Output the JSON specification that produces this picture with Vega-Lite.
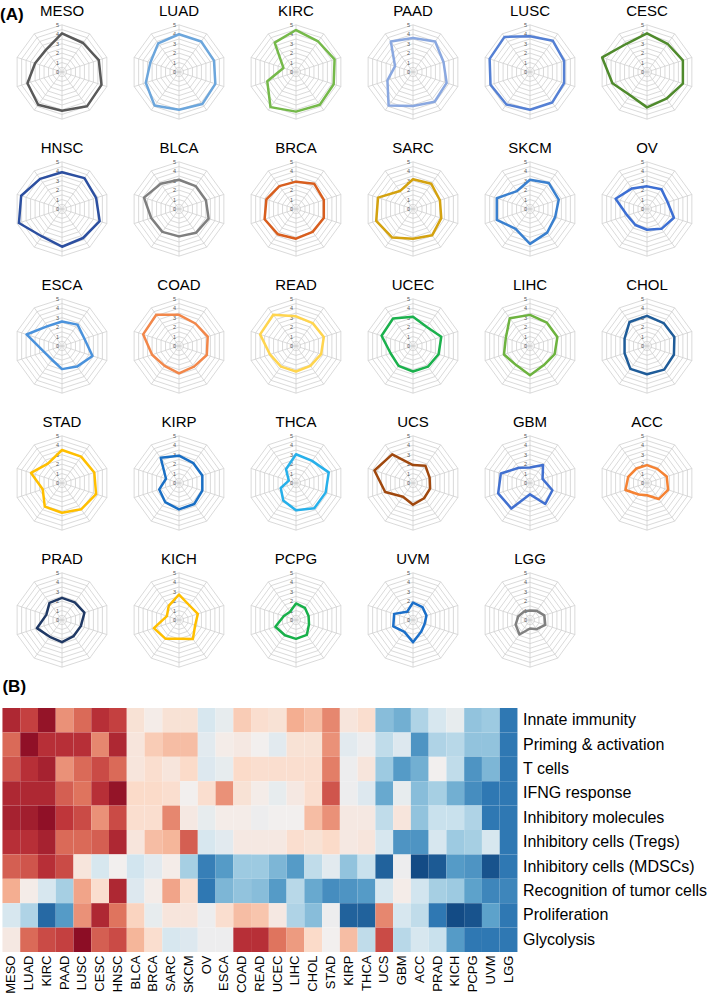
{
"$schema": "https://vega.github.io/schema/vega-lite/v6.json",
"padding": {"top": 4, "left": 0, "right": 0, "bottom": 0},
"background": "white",
"config": {"view": {"stroke": null}, "font": "Liberation Sans"},
"datasets": {
"features": [
{"feature":"Innate immunity","k":0},{"feature":"Priming & activation","k":1},{"feature":"T cells","k":2},{"feature":"IFNG response","k":3},{"feature":"Inhibitory molecules","k":4},{"feature":"Inhibitory cells (Tregs)","k":5},{"feature":"Inhibitory cells (MDSCs)","k":6},{"feature":"Recognition of tumor cells","k":7},{"feature":"Proliferation","k":8},{"feature":"Glycolysis","k":9}],
"scores": [
{"cancer":"MESO","feature":"Innate immunity","score":4.1,"z":2.6},{"cancer":"MESO","feature":"Priming & activation","score":3.8,"z":1.9},{"cancer":"MESO","feature":"T cells","score":4.1,"z":2.1},{"cancer":"MESO","feature":"IFNG response","score":4.4,"z":2.6},{"cancer":"MESO","feature":"Inhibitory molecules","score":4.5,"z":2.7},{"cancer":"MESO","feature":"Inhibitory cells (Tregs)","score":4.1,"z":2.5},{"cancer":"MESO","feature":"Inhibitory cells (MDSCs)","score":4.3,"z":2.0},{"cancer":"MESO","feature":"Recognition of tumor cells","score":3.85,"z":1.2},{"cancer":"MESO","feature":"Proliferation","score":3.0,"z":-0.5},{"cancer":"MESO","feature":"Glycolysis","score":2.9,"z":0.2},
{"cancer":"LUAD","feature":"Innate immunity","score":4.0,"z":2.3},{"cancer":"LUAD","feature":"Priming & activation","score":4.0,"z":2.95},{"cancer":"LUAD","feature":"T cells","score":3.9,"z":2.5},{"cancer":"LUAD","feature":"IFNG response","score":4.05,"z":2.6},{"cancer":"LUAD","feature":"Inhibitory molecules","score":4.2,"z":2.75},{"cancer":"LUAD","feature":"Inhibitory cells (Tregs)","score":4.0,"z":2.5},{"cancer":"LUAD","feature":"Inhibitory cells (MDSCs)","score":4.4,"z":2.1},{"cancer":"LUAD","feature":"Recognition of tumor cells","score":3.7,"z":0.1},{"cancer":"LUAD","feature":"Proliferation","score":3.2,"z":-1.0},{"cancer":"LUAD","feature":"Glycolysis","score":3.75,"z":1.9},
{"cancer":"KIRC","feature":"Innate immunity","score":4.45,"z":2.9},{"cancer":"KIRC","feature":"Priming & activation","score":4.0,"z":2.5},{"cancer":"KIRC","feature":"T cells","score":4.3,"z":2.7},{"cancer":"KIRC","feature":"IFNG response","score":4.2,"z":2.6},{"cancer":"KIRC","feature":"Inhibitory molecules","score":4.3,"z":2.95},{"cancer":"KIRC","feature":"Inhibitory cells (Tregs)","score":4.2,"z":2.7},{"cancer":"KIRC","feature":"Inhibitory cells (MDSCs)","score":4.6,"z":2.5},{"cancer":"KIRC","feature":"Recognition of tumor cells","score":3.2,"z":-0.5},{"cancer":"KIRC","feature":"Proliferation","score":1.4,"z":-2.6},{"cancer":"KIRC","feature":"Glycolysis","score":3.85,"z":2.2},
{"cancer":"PAAD","feature":"Innate immunity","score":3.6,"z":1.5},{"cancer":"PAAD","feature":"Priming & activation","score":4.0,"z":2.5},{"cancer":"PAAD","feature":"T cells","score":3.4,"z":1.5},{"cancer":"PAAD","feature":"IFNG response","score":3.75,"z":2.0},{"cancer":"PAAD","feature":"Inhibitory molecules","score":3.9,"z":2.4},{"cancer":"PAAD","feature":"Inhibitory cells (Tregs)","score":3.6,"z":1.9},{"cancer":"PAAD","feature":"Inhibitory cells (MDSCs)","score":4.4,"z":2.2},{"cancer":"PAAD","feature":"Recognition of tumor cells","score":2.85,"z":-1.1},{"cancer":"PAAD","feature":"Proliferation","score":2.0,"z":-1.9},{"cancer":"PAAD","feature":"Glycolysis","score":4.0,"z":2.3},
{"cancer":"LUSC","feature":"Innate immunity","score":3.8,"z":1.9},{"cancer":"LUSC","feature":"Priming & activation","score":4.1,"z":2.5},{"cancer":"LUSC","feature":"T cells","score":3.8,"z":1.9},{"cancer":"LUSC","feature":"IFNG response","score":3.8,"z":1.8},{"cancer":"LUSC","feature":"Inhibitory molecules","score":4.0,"z":2.2},{"cancer":"LUSC","feature":"Inhibitory cells (Tregs)","score":4.0,"z":1.9},{"cancer":"LUSC","feature":"Inhibitory cells (MDSCs)","score":4.25,"z":0.3},{"cancer":"LUSC","feature":"Recognition of tumor cells","score":4.4,"z":1.3},{"cancer":"LUSC","feature":"Proliferation","score":4.5,"z":1.5},{"cancer":"LUSC","feature":"Glycolysis","score":4.6,"z":3.0},
{"cancer":"CESC","feature":"Innate immunity","score":4.1,"z":2.5},{"cancer":"CESC","feature":"Priming & activation","score":3.7,"z":1.6},{"cancer":"CESC","feature":"T cells","score":4.0,"z":2.2},{"cancer":"CESC","feature":"IFNG response","score":4.0,"z":2.5},{"cancer":"CESC","feature":"Inhibitory molecules","score":3.5,"z":1.5},{"cancer":"CESC","feature":"Inhibitory cells (Tregs)","score":3.75,"z":2.0},{"cancer":"CESC","feature":"Inhibitory cells (MDSCs)","score":3.05,"z":-0.5},{"cancer":"CESC","feature":"Recognition of tumor cells","score":3.85,"z":0.5},{"cancer":"CESC","feature":"Proliferation","score":5.0,"z":2.6},{"cancer":"CESC","feature":"Glycolysis","score":3.7,"z":2.0},
{"cancer":"HNSC","feature":"Innate immunity","score":3.9,"z":2.3},{"cancer":"HNSC","feature":"Priming & activation","score":4.05,"z":2.6},{"cancer":"HNSC","feature":"T cells","score":3.8,"z":1.9},{"cancer":"HNSC","feature":"IFNG response","score":4.2,"z":2.9},{"cancer":"HNSC","feature":"Inhibitory molecules","score":3.8,"z":2.2},{"cancer":"HNSC","feature":"Inhibitory cells (Tregs)","score":4.0,"z":2.6},{"cancer":"HNSC","feature":"Inhibitory cells (MDSCs)","score":3.6,"z":0.0},{"cancer":"HNSC","feature":"Recognition of tumor cells","score":4.8,"z":2.6},{"cancer":"HNSC","feature":"Proliferation","score":4.55,"z":1.8},{"cancer":"HNSC","feature":"Glycolysis","score":3.95,"z":2.2},
{"cancer":"BLCA","feature":"Innate immunity","score":3.1,"z":0.4},{"cancer":"BLCA","feature":"Priming & activation","score":3.0,"z":0.3},{"cancer":"BLCA","feature":"T cells","score":3.0,"z":0.3},{"cancer":"BLCA","feature":"IFNG response","score":3.3,"z":0.6},{"cancer":"BLCA","feature":"Inhibitory molecules","score":3.1,"z":0.5},{"cancer":"BLCA","feature":"Inhibitory cells (Tregs)","score":2.9,"z":0.3},{"cancer":"BLCA","feature":"Inhibitory cells (MDSCs)","score":3.0,"z":-0.6},{"cancer":"BLCA","feature":"Recognition of tumor cells","score":3.1,"z":-0.4},{"cancer":"BLCA","feature":"Proliferation","score":3.9,"z":0.7},{"cancer":"BLCA","feature":"Glycolysis","score":3.3,"z":1.1},
{"cancer":"BRCA","feature":"Innate immunity","score":2.9,"z":0.1},{"cancer":"BRCA","feature":"Priming & activation","score":3.3,"z":0.8},{"cancer":"BRCA","feature":"T cells","score":3.1,"z":0.5},{"cancer":"BRCA","feature":"IFNG response","score":3.1,"z":0.6},{"cancer":"BRCA","feature":"Inhibitory molecules","score":3.0,"z":0.5},{"cancer":"BRCA","feature":"Inhibitory cells (Tregs)","score":3.15,"z":1.0},{"cancer":"BRCA","feature":"Inhibitory cells (MDSCs)","score":3.3,"z":-0.3},{"cancer":"BRCA","feature":"Recognition of tumor cells","score":3.5,"z":0.1},{"cancer":"BRCA","feature":"Proliferation","score":3.3,"z":-0.2},{"cancer":"BRCA","feature":"Glycolysis","score":3.0,"z":0.5},
{"cancer":"SARC","feature":"Innate immunity","score":3.15,"z":0.4},{"cancer":"SARC","feature":"Priming & activation","score":3.3,"z":1.0},{"cancer":"SARC","feature":"T cells","score":3.0,"z":0.3},{"cancer":"SARC","feature":"IFNG response","score":3.15,"z":0.5},{"cancer":"SARC","feature":"Inhibitory molecules","score":3.45,"z":1.6},{"cancer":"SARC","feature":"Inhibitory cells (Tregs)","score":3.15,"z":1.1},{"cancer":"SARC","feature":"Inhibitory cells (MDSCs)","score":3.75,"z":0.1},{"cancer":"SARC","feature":"Recognition of tumor cells","score":4.1,"z":1.3},{"cancer":"SARC","feature":"Proliferation","score":3.9,"z":0.3},{"cancer":"SARC","feature":"Glycolysis","score":2.35,"z":-0.5},
{"cancer":"SKCM","feature":"Innate immunity","score":3.1,"z":0.4},{"cancer":"SKCM","feature":"Priming & activation","score":3.4,"z":1.0},{"cancer":"SKCM","feature":"T cells","score":3.2,"z":0.6},{"cancer":"SKCM","feature":"IFNG response","score":2.8,"z":0.0},{"cancer":"SKCM","feature":"Inhibitory molecules","score":3.1,"z":0.2},{"cancer":"SKCM","feature":"Inhibitory cells (Tregs)","score":3.7,"z":2.0},{"cancer":"SKCM","feature":"Inhibitory cells (MDSCs)","score":2.6,"z":-1.1},{"cancer":"SKCM","feature":"Recognition of tumor cells","score":3.7,"z":0.5},{"cancer":"SKCM","feature":"Proliferation","score":3.7,"z":0.3},{"cancer":"SKCM","feature":"Glycolysis","score":2.35,"z":-0.4},
{"cancer":"OV","feature":"Innate immunity","score":2.4,"z":-0.5},{"cancer":"OV","feature":"Priming & activation","score":2.6,"z":-0.3},{"cancer":"OV","feature":"T cells","score":2.3,"z":-0.4},{"cancer":"OV","feature":"IFNG response","score":3.0,"z":0.5},{"cancer":"OV","feature":"Inhibitory molecules","score":2.6,"z":-0.2},{"cancer":"OV","feature":"Inhibitory cells (Tregs)","score":2.2,"z":-0.5},{"cancer":"OV","feature":"Inhibitory cells (MDSCs)","score":2.1,"z":-2.3},{"cancer":"OV","feature":"Recognition of tumor cells","score":2.2,"z":-2.4},{"cancer":"OV","feature":"Proliferation","score":3.5,"z":-0.1},{"cancer":"OV","feature":"Glycolysis","score":2.7,"z":-0.1},
{"cancer":"ESCA","feature":"Innate immunity","score":2.6,"z":-0.2},{"cancer":"ESCA","feature":"Priming & activation","score":2.8,"z":0.1},{"cancer":"ESCA","feature":"T cells","score":2.5,"z":-0.2},{"cancer":"ESCA","feature":"IFNG response","score":3.4,"z":1.5},{"cancer":"ESCA","feature":"Inhibitory molecules","score":2.7,"z":0.1},{"cancer":"ESCA","feature":"Inhibitory cells (Tregs)","score":2.45,"z":-0.3},{"cancer":"ESCA","feature":"Inhibitory cells (MDSCs)","score":1.8,"z":-1.9},{"cancer":"ESCA","feature":"Recognition of tumor cells","score":2.0,"z":-1.5},{"cancer":"ESCA","feature":"Proliferation","score":3.95,"z":0.5},{"cancer":"ESCA","feature":"Glycolysis","score":2.6,"z":-0.1},
{"cancer":"COAD","feature":"Innate immunity","score":3.3,"z":0.8},{"cancer":"COAD","feature":"Priming & activation","score":2.95,"z":0.2},{"cancer":"COAD","feature":"T cells","score":3.2,"z":0.6},{"cancer":"COAD","feature":"IFNG response","score":3.1,"z":0.4},{"cancer":"COAD","feature":"Inhibitory molecules","score":2.7,"z":0.1},{"cancer":"COAD","feature":"Inhibitory cells (Tregs)","score":2.9,"z":0.2},{"cancer":"COAD","feature":"Inhibitory cells (MDSCs)","score":2.6,"z":-1.2},{"cancer":"COAD","feature":"Recognition of tumor cells","score":3.0,"z":-1.3},{"cancer":"COAD","feature":"Proliferation","score":4.0,"z":1.0},{"cancer":"COAD","feature":"Glycolysis","score":4.1,"z":2.5},
{"cancer":"READ","feature":"Innate immunity","score":3.15,"z":0.5},{"cancer":"READ","feature":"Priming & activation","score":3.0,"z":0.0},{"cancer":"READ","feature":"T cells","score":3.1,"z":0.5},{"cancer":"READ","feature":"IFNG response","score":2.8,"z":0.1},{"cancer":"READ","feature":"Inhibitory molecules","score":2.6,"z":-0.1},{"cancer":"READ","feature":"Inhibitory cells (Tregs)","score":2.7,"z":0.2},{"cancer":"READ","feature":"Inhibitory cells (MDSCs)","score":2.7,"z":-1.2},{"cancer":"READ","feature":"Recognition of tumor cells","score":2.9,"z":-1.4},{"cancer":"READ","feature":"Proliferation","score":4.0,"z":0.9},{"cancer":"READ","feature":"Glycolysis","score":4.1,"z":2.5},
{"cancer":"UCEC","feature":"Innate immunity","score":3.1,"z":0.4},{"cancer":"UCEC","feature":"Priming & activation","score":2.5,"z":-0.3},{"cancer":"UCEC","feature":"T cells","score":3.15,"z":0.5},{"cancer":"UCEC","feature":"IFNG response","score":2.85,"z":-0.2},{"cancer":"UCEC","feature":"Inhibitory molecules","score":2.7,"z":0.0},{"cancer":"UCEC","feature":"Inhibitory cells (Tregs)","score":2.7,"z":0.2},{"cancer":"UCEC","feature":"Inhibitory cells (MDSCs)","score":2.6,"z":-1.5},{"cancer":"UCEC","feature":"Recognition of tumor cells","score":2.5,"z":-1.9},{"cancer":"UCEC","feature":"Proliferation","score":3.5,"z":0.2},{"cancer":"UCEC","feature":"Glycolysis","score":3.6,"z":1.8},
{"cancer":"LIHC","feature":"Innate immunity","score":3.3,"z":1.2},{"cancer":"LIHC","feature":"Priming & activation","score":3.05,"z":0.4},{"cancer":"LIHC","feature":"T cells","score":3.05,"z":0.5},{"cancer":"LIHC","feature":"IFNG response","score":2.75,"z":0.2},{"cancer":"LIHC","feature":"Inhibitory molecules","score":2.5,"z":0.0},{"cancer":"LIHC","feature":"Inhibitory cells (Tregs)","score":3.1,"z":0.5},{"cancer":"LIHC","feature":"Inhibitory cells (MDSCs)","score":2.5,"z":-1.9},{"cancer":"LIHC","feature":"Recognition of tumor cells","score":2.9,"z":-0.9},{"cancer":"LIHC","feature":"Proliferation","score":2.7,"z":-1.0},{"cancer":"LIHC","feature":"Glycolysis","score":3.65,"z":1.4},
{"cancer":"CHOL","feature":"Innate immunity","score":3.2,"z":1.0},{"cancer":"CHOL","feature":"Priming & activation","score":3.0,"z":0.4},{"cancer":"CHOL","feature":"T cells","score":3.05,"z":0.5},{"cancer":"CHOL","feature":"IFNG response","score":3.0,"z":0.5},{"cancer":"CHOL","feature":"Inhibitory molecules","score":3.1,"z":1.0},{"cancer":"CHOL","feature":"Inhibitory cells (Tregs)","score":3.0,"z":0.4},{"cancer":"CHOL","feature":"Inhibitory cells (MDSCs)","score":3.0,"z":-0.8},{"cancer":"CHOL","feature":"Recognition of tumor cells","score":2.5,"z":-1.7},{"cancer":"CHOL","feature":"Proliferation","score":2.5,"z":-1.4},{"cancer":"CHOL","feature":"Glycolysis","score":3.15,"z":0.6},
{"cancer":"STAD","feature":"Innate immunity","score":3.5,"z":1.6},{"cancer":"STAD","feature":"Priming & activation","score":3.45,"z":1.5},{"cancer":"STAD","feature":"T cells","score":3.6,"z":1.7},{"cancer":"STAD","feature":"IFNG response","score":3.8,"z":2.1},{"cancer":"STAD","feature":"Inhibitory molecules","score":3.45,"z":1.5},{"cancer":"STAD","feature":"Inhibitory cells (Tregs)","score":3.15,"z":0.6},{"cancer":"STAD","feature":"Inhibitory cells (MDSCs)","score":3.1,"z":-0.3},{"cancer":"STAD","feature":"Recognition of tumor cells","score":2.15,"z":-2.1},{"cancer":"STAD","feature":"Proliferation","score":3.45,"z":-0.1},{"cancer":"STAD","feature":"Glycolysis","score":2.55,"z":0.0},
{"cancer":"KIRP","feature":"Innate immunity","score":2.9,"z":0.3},{"cancer":"KIRP","feature":"Priming & activation","score":2.6,"z":-0.3},{"cancer":"KIRP","feature":"T cells","score":2.6,"z":-0.1},{"cancer":"KIRP","feature":"IFNG response","score":2.6,"z":-0.1},{"cancer":"KIRP","feature":"Inhibitory molecules","score":2.75,"z":0.2},{"cancer":"KIRP","feature":"Inhibitory cells (Tregs)","score":2.8,"z":0.2},{"cancer":"KIRP","feature":"Inhibitory cells (MDSCs)","score":2.5,"z":-1.3},{"cancer":"KIRP","feature":"Recognition of tumor cells","score":2.2,"z":-2.0},{"cancer":"KIRP","feature":"Proliferation","score":1.45,"z":-2.7},{"cancer":"KIRP","feature":"Glycolysis","score":3.3,"z":1.0},
{"cancer":"THCA","feature":"Innate immunity","score":3.05,"z":0.5},{"cancer":"THCA","feature":"Priming & activation","score":2.9,"z":-0.1},{"cancer":"THCA","feature":"T cells","score":3.65,"z":0.3},{"cancer":"THCA","feature":"IFNG response","score":3.3,"z":-0.4},{"cancer":"THCA","feature":"Inhibitory molecules","score":3.3,"z":0.2},{"cancer":"THCA","feature":"Inhibitory cells (Tregs)","score":2.9,"z":0.3},{"cancer":"THCA","feature":"Inhibitory cells (MDSCs)","score":2.3,"z":-0.7},{"cancer":"THCA","feature":"Recognition of tumor cells","score":1.7,"z":-1.9},{"cancer":"THCA","feature":"Proliferation","score":0.8,"z":-2.7},{"cancer":"THCA","feature":"Glycolysis","score":1.8,"z":-0.8},
{"cancer":"UCS","feature":"Innate immunity","score":1.9,"z":-1.4},{"cancer":"UCS","feature":"Priming & activation","score":2.25,"z":-0.8},{"cancer":"UCS","feature":"T cells","score":1.85,"z":-1.2},{"cancer":"UCS","feature":"IFNG response","score":1.9,"z":-1.7},{"cancer":"UCS","feature":"Inhibitory molecules","score":2.0,"z":-0.8},{"cancer":"UCS","feature":"Inhibitory cells (Tregs)","score":2.3,"z":-0.5},{"cancer":"UCS","feature":"Inhibitory cells (MDSCs)","score":1.8,"z":-2.7},{"cancer":"UCS","feature":"Recognition of tumor cells","score":3.1,"z":-0.5},{"cancer":"UCS","feature":"Proliferation","score":4.3,"z":1.6},{"cancer":"UCS","feature":"Glycolysis","score":3.75,"z":2.2},
{"cancer":"GBM","feature":"Innate immunity","score":1.65,"z":-1.6},{"cancer":"GBM","feature":"Priming & activation","score":2.35,"z":-0.4},{"cancer":"GBM","feature":"T cells","score":1.4,"z":-1.9},{"cancer":"GBM","feature":"IFNG response","score":2.5,"z":-0.2},{"cancer":"GBM","feature":"Inhibitory molecules","score":2.75,"z":0.3},{"cancer":"GBM","feature":"Inhibitory cells (Tregs)","score":1.2,"z":-2.0},{"cancer":"GBM","feature":"Inhibitory cells (MDSCs)","score":3.35,"z":-0.1},{"cancer":"GBM","feature":"Recognition of tumor cells","score":3.55,"z":0.1},{"cancer":"GBM","feature":"Proliferation","score":3.25,"z":-0.5},{"cancer":"GBM","feature":"Glycolysis","score":2.0,"z":-0.9},
{"cancer":"ACC","feature":"Innate immunity","score":1.9,"z":-1.0},{"cancer":"ACC","feature":"Priming & activation","score":1.85,"z":-2.0},{"cancer":"ACC","feature":"T cells","score":2.2,"z":-1.6},{"cancer":"ACC","feature":"IFNG response","score":2.35,"z":-1.4},{"cancer":"ACC","feature":"Inhibitory molecules","score":2.1,"z":-1.3},{"cancer":"ACC","feature":"Inhibitory cells (Tregs)","score":1.3,"z":-2.0},{"cancer":"ACC","feature":"Inhibitory cells (MDSCs)","score":1.5,"z":-3.0},{"cancer":"ACC","feature":"Recognition of tumor cells","score":2.4,"z":-0.6},{"cancer":"ACC","feature":"Proliferation","score":2.1,"z":-0.8},{"cancer":"ACC","feature":"Glycolysis","score":1.9,"z":-0.5},
{"cancer":"PRAD","feature":"Innate immunity","score":2.35,"z":-0.5},{"cancer":"PRAD","feature":"Priming & activation","score":2.3,"z":-1.0},{"cancer":"PRAD","feature":"T cells","score":2.5,"z":0.0},{"cancer":"PRAD","feature":"IFNG response","score":2.1,"z":-1.1},{"cancer":"PRAD","feature":"Inhibitory molecules","score":2.1,"z":-0.7},{"cancer":"PRAD","feature":"Inhibitory cells (Tregs)","score":2.35,"z":-0.5},{"cancer":"PRAD","feature":"Inhibitory cells (MDSCs)","score":2.2,"z":-2.8},{"cancer":"PRAD","feature":"Recognition of tumor cells","score":2.8,"z":-1.1},{"cancer":"PRAD","feature":"Proliferation","score":1.75,"z":-2.4},{"cancer":"PRAD","feature":"Glycolysis","score":2.25,"z":-0.7},
{"cancer":"KICH","feature":"Innate immunity","score":2.7,"z":-0.2},{"cancer":"KICH","feature":"Priming & activation","score":1.9,"z":-0.9},{"cancer":"KICH","feature":"T cells","score":2.1,"z":-0.8},{"cancer":"KICH","feature":"IFNG response","score":1.8,"z":-1.6},{"cancer":"KICH","feature":"Inhibitory molecules","score":2.5,"z":-0.7},{"cancer":"KICH","feature":"Inhibitory cells (Tregs)","score":2.0,"z":-1.2},{"cancer":"KICH","feature":"Inhibitory cells (MDSCs)","score":2.45,"z":-1.9},{"cancer":"KICH","feature":"Recognition of tumor cells","score":2.8,"z":-1.2},{"cancer":"KICH","feature":"Proliferation","score":1.35,"z":-3.0},{"cancer":"KICH","feature":"Glycolysis","score":1.85,"z":-1.9},
{"cancer":"PCPG","feature":"Innate immunity","score":1.75,"z":-1.3},{"cancer":"PCPG","feature":"Priming & activation","score":1.6,"z":-1.3},{"cancer":"PCPG","feature":"T cells","score":1.4,"z":-2.0},{"cancer":"PCPG","feature":"IFNG response","score":1.45,"z":-2.1},{"cancer":"PCPG","feature":"Inhibitory molecules","score":1.95,"z":-1.0},{"cancer":"PCPG","feature":"Inhibitory cells (Tregs)","score":2.0,"z":-1.1},{"cancer":"PCPG","feature":"Inhibitory cells (MDSCs)","score":2.0,"z":-2.0},{"cancer":"PCPG","feature":"Recognition of tumor cells","score":2.3,"z":-1.8},{"cancer":"PCPG","feature":"Proliferation","score":1.35,"z":-2.9},{"cancer":"PCPG","feature":"Glycolysis","score":1.07,"z":-2.4},
{"cancer":"UVM","feature":"Innate immunity","score":1.85,"z":-1.2},{"cancer":"UVM","feature":"Priming & activation","score":1.7,"z":-1.3},{"cancer":"UVM","feature":"T cells","score":1.5,"z":-1.5},{"cancer":"UVM","feature":"IFNG response","score":1.3,"z":-2.4},{"cancer":"UVM","feature":"Inhibitory molecules","score":1.5,"z":-2.4},{"cancer":"UVM","feature":"Inhibitory cells (Tregs)","score":2.35,"z":-0.5},{"cancer":"UVM","feature":"Inhibitory cells (MDSCs)","score":1.55,"z":-2.9},{"cancer":"UVM","feature":"Recognition of tumor cells","score":2.2,"z":-2.2},{"cancer":"UVM","feature":"Proliferation","score":2.1,"z":-1.8},{"cancer":"UVM","feature":"Glycolysis","score":1.07,"z":-2.4},
{"cancer":"LGG","feature":"Innate immunity","score":1.0,"z":-2.4},{"cancer":"LGG","feature":"Priming & activation","score":1.2,"z":-2.4},{"cancer":"LGG","feature":"T cells","score":1.6,"z":-2.4},{"cancer":"LGG","feature":"IFNG response","score":1.7,"z":-2.4},{"cancer":"LGG","feature":"Inhibitory molecules","score":1.2,"z":-2.4},{"cancer":"LGG","feature":"Inhibitory cells (Tregs)","score":0.9,"z":-2.4},{"cancer":"LGG","feature":"Inhibitory cells (MDSCs)","score":1.9,"z":-2.4},{"cancer":"LGG","feature":"Recognition of tumor cells","score":1.6,"z":-2.2},{"cancer":"LGG","feature":"Proliferation","score":1.3,"z":-2.4},{"cancer":"LGG","feature":"Glycolysis","score":1.1,"z":-2.4}
]},
"center": true,
"spacing": 8,
"vconcat": [
{
"data": {"name": "scores"},
"transform": [
{"lookup": "feature", "from": {"data": {"name": "features"}, "key": "feature", "fields": ["k"]}},
{"calculate": "datum.k*PI/5", "as": "theta"}
],
"title": {"text": "(A)", "anchor": "start", "fontSize": 17, "fontWeight": "bold", "offset": -20, "dx": -12, "color": "black"},
"facet": {"field": "cancer", "type": "nominal", "sort": ["MESO","LUAD","KIRC","PAAD","LUSC","CESC","HNSC","BLCA","BRCA","SARC","SKCM","OV","ESCA","COAD","READ","UCEC","LIHC","CHOL","STAD","KIRP","THCA","UCS","GBM","ACC","PRAD","KICH","PCPG","UVM","LGG"],
  "header": {"title": null, "labelFontSize": 15, "labelPadding": 3, "labelColor": "black", "labelFont": "Liberation Sans"}},
"columns": 6,
"spacing": {"row": 19, "column": 17},
"spec": {
"width": 100, "height": 100,
"layer": [
{"transform": [{"calculate": "[0.5,1,1.5,2,2.5,3,3.5,4,4.5,5]", "as": "ring"}, {"flatten": ["ring"]}, {"calculate": "datum.ring*sin(datum.theta)", "as": "gx"}, {"calculate": "datum.ring*cos(datum.theta)", "as": "gy"}],
 "mark": {"type": "line", "interpolate": "linear-closed", "stroke": "#d0d0d0", "strokeWidth": 0.8},
 "encoding": {"x": {"field": "gx", "type": "quantitative", "scale": {"domain": [-5.3, 5.3], "nice": false, "zero": false}, "axis": null},
  "y": {"field": "gy", "type": "quantitative", "scale": {"domain": [-5.3, 5.3], "nice": false, "zero": false}, "axis": null},
  "detail": {"field": "ring", "type": "nominal"}, "order": {"field": "k", "type": "quantitative"}}},
{"transform": [{"calculate": "[0,5]", "as": "rr"}, {"flatten": ["rr"]}, {"calculate": "datum.rr*sin(datum.theta)", "as": "sx"}, {"calculate": "datum.rr*cos(datum.theta)", "as": "sy"}],
 "mark": {"type": "line", "stroke": "#d0d0d0", "strokeWidth": 0.8},
 "encoding": {"x": {"field": "sx", "type": "quantitative"}, "y": {"field": "sy", "type": "quantitative"}, "detail": {"field": "k", "type": "nominal"}, "order": {"field": "rr", "type": "quantitative"}}},
{"transform": [{"filter": "datum.k==0"}, {"calculate": "[0,1,2,3,4,5]", "as": "tick"}, {"flatten": ["tick"]}, {"calculate": "0", "as": "tx"}],
 "mark": {"type": "text", "align": "right", "baseline": "middle", "dx": -3, "fontSize": 5.5, "color": "#595959"},
 "encoding": {"x": {"field": "tx", "type": "quantitative"}, "y": {"field": "tick", "type": "quantitative"}, "text": {"field": "tick", "type": "quantitative"}}},
{"transform": [{"calculate": "datum.score*sin(datum.theta)", "as": "px"}, {"calculate": "datum.score*cos(datum.theta)", "as": "py"}],
 "mark": {"type": "line", "interpolate": "linear-closed", "strokeWidth": 2.5, "strokeJoin": "round"},
 "encoding": {"x": {"field": "px", "type": "quantitative"}, "y": {"field": "py", "type": "quantitative"}, "order": {"field": "k", "type": "quantitative"},
  "color": {"field": "cancer", "type": "nominal", "legend": null,
   "scale": {"domain": ["MESO","LUAD","KIRC","PAAD","LUSC","CESC","HNSC","BLCA","BRCA","SARC","SKCM","OV","ESCA","COAD","READ","UCEC","LIHC","CHOL","STAD","KIRP","THCA","UCS","GBM","ACC","PRAD","KICH","PCPG","UVM","LGG"],
    "range": ["#595959","#6ca6dc","#75b94a","#8aa8e0","#5580d4","#4f8a2c","#2c4fa0","#7f7f7f","#d85e1e","#d4a20f","#3a80cf","#3d6fd3","#4a92dc","#f2874a","#ffd54f","#1bb14d","#6db33f","#1f5c99","#ffbf00","#1a6fc4","#27b0ea","#a0480e","#4170d0","#f58233","#1f3864","#ffbf00","#18b04a","#1b6fc9","#808080"]}}}}
]
}
},
{
"data": {"name": "scores"},
"title": {"text": "(B)", "anchor": "start", "fontSize": 17, "fontWeight": "bold", "offset": 12, "color": "black"},
"width": 515, "height": 244,
"mark": "rect",
"encoding": {
 "x": {"field": "cancer", "type": "nominal", "sort": ["MESO","LUAD","KIRC","PAAD","LUSC","CESC","HNSC","BLCA","BRCA","SARC","SKCM","OV","ESCA","COAD","READ","UCEC","LIHC","CHOL","STAD","KIRP","THCA","UCS","GBM","ACC","PRAD","KICH","PCPG","UVM","LGG"],
  "axis": {"title": null, "labelAngle": -90, "labelFontSize": 13, "ticks": false, "domain": false, "labelPadding": 3, "labelColor": "black"}},
 "y": {"field": "feature", "type": "nominal", "sort": ["Innate immunity","Priming & activation","T cells","IFNG response","Inhibitory molecules","Inhibitory cells (Tregs)","Inhibitory cells (MDSCs)","Recognition of tumor cells","Proliferation","Glycolysis"],
  "axis": {"orient": "right", "title": null, "labelFontSize": 16, "ticks": false, "domain": false, "labelPadding": 5, "labelColor": "black", "labelLimit": 300}},
 "color": {"field": "z", "type": "quantitative", "legend": null, "scale": {"scheme": "redblue", "reverse": true, "domain": [-3, 3]}}
}
}
]
}
